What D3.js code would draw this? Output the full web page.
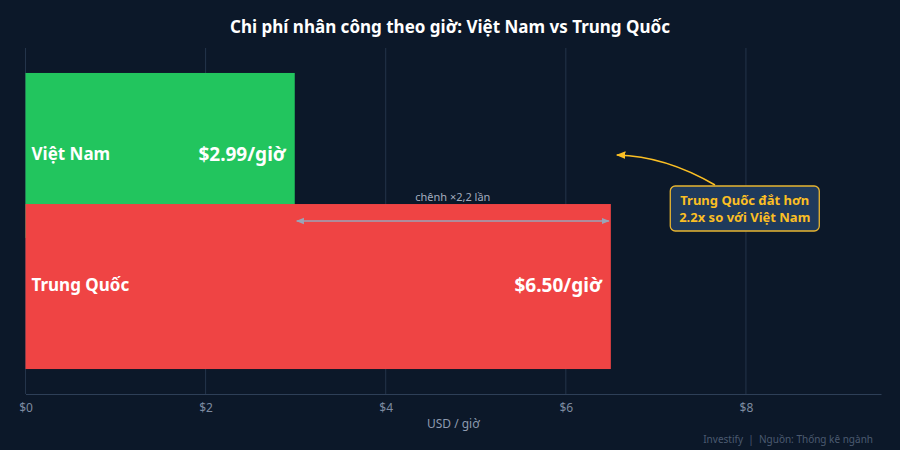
<!DOCTYPE html>
<html>
<head>
<meta charset="utf-8">
<script src="https://cdn.jsdelivr.net/npm/d3@7"></script>
<style>
  body { margin: 0; background: #0c1829; }
  svg { display: block; font-family: "Noto Sans", "Open Sans", sans-serif; }
</style>
</head>
<body>
<div id="chart"></div>
<script>
// du lieu
var countries = ['Việt Nam', 'Trung Quốc'];
var wages = [2.99, 6.50];
var barColors = ['#22c55e', '#ef4444'];
var tickValues = [0, 2, 4, 6, 8];
var ratioLabel = 'chênh ×2,2 lần';
var noteLines = ['Trung Quốc đắt hơn', '2.2x so với Việt Nam'];

var width = 900;
var height = 450;
var margin = { top: 48, right: 19, bottom: 56, left: 25.5 };
var innerW = width - margin.left - margin.right;
var innerH = height - margin.top - margin.bottom;

var svg = d3.select('#chart').append('svg')
    .attr('width', width)
    .attr('height', height);

svg.append('rect').attr('width', width).attr('height', height).attr('fill', '#0c1829');

// tieu de
svg.append('text')
    .attr('x', width / 2)
    .attr('y', 33)
    .attr('text-anchor', 'middle')
    .attr('fill', '#ffffff')
    .attr('font-size', 17)
    .attr('font-weight', 700)
    .text('Chi phí nhân công theo giờ: Việt Nam vs Trung Quốc');

var g = svg.append('g')
    .attr('transform', 'translate(' + margin.left + ',' + margin.top + ')');

var x = d3.scaleLinear().domain([0, 9.5]).range([0, innerW]);

var y = d3.scalePoint()
    .domain(countries)
    .range([0, innerH])
    .padding(0.82);
var barH = y.step() * 1.259;

// grid doc
g.append('g')
    .selectAll('line')
    .data(tickValues)
    .enter().append('line')
    .attr('x1', d => x(d))
    .attr('x2', d => x(d))
    .attr('y1', 0)
    .attr('y2', innerH)
    .attr('stroke', '#24344a')
    .attr('stroke-width', 1);

// truc X
var xAxis = g.append('g')
    .attr('transform', 'translate(0,' + innerH + ')')
    .call(d3.axisBottom(x).tickValues(tickValues).tickFormat(d => '$' + d).tickSize(0).tickPadding(9));
xAxis.select('.domain').attr('stroke', '#2e3f57');
xAxis.selectAll('text')
    .attr('fill', '#7d8ba0')
    .style('font-size', '12px')
    .style('font-family', '"Noto Sans", sans-serif');

g.append('text')
    .attr('x', innerW / 2)
    .attr('y', innerH + 34)
    .attr('text-anchor', 'middle')
    .attr('fill', '#8e9bb0')
    .attr('font-size', 12)
    .text('USD / giờ');

// cot
var rows = countries.map((c, i) => ({ name: c, value: wages[i], color: barColors[i] }));

var bars = g.selectAll('.bar')
    .data(rows)
    .enter().append('g')
    .attr('class', 'bar');

bars.append('rect')
    .attr('x', 0)
    .attr('y', d => y(d.name) - barH / 2)
    .attr('width', d => x(d.value))
    .attr('height', barH)
    .attr('fill', d => d.color);

bars.append('text')
    .attr('x', 6)
    .attr('y', d => y(d.name) - 1)
    .attr('dy', '0.35em')
    .attr('fill', '#ffffff')
    .attr('font-size', 17)
    .attr('font-weight', 700)
    .text(d => d.name);

bars.append('text')
    .attr('x', d => x(d.value) - 9)
    .attr('y', d => y(d.name) - 1)
    .attr('dy', '0.35em')
    .attr('text-anchor', 'end')
    .attr('fill', '#ffffff')
    .attr('font-size', 19)
    .attr('font-weight', 700)
    .text(d => '$' + d.value.toFixed(2) + '/giờ');

// mui ten chenh lech
var defs = svg.append('defs');
defs.append('marker')
    .attr('id', 'ah-gray')
    .attr('viewBox', '0 0 10 10')
    .attr('refX', 9).attr('refY', 5)
    .attr('markerWidth', 5).attr('markerHeight', 5)
    .attr('orient', 'auto-start-reverse')
    .append('path').attr('d', 'M0,1 L10,5 L0,9 z').attr('fill', '#9aa5b8');
defs.append('marker')
    .attr('id', 'ah-gold')
    .attr('viewBox', '0 0 10 10')
    .attr('refX', 9).attr('refY', 5)
    .attr('markerWidth', 6).attr('markerHeight', 6)
    .attr('orient', 'auto')
    .append('path').attr('d', 'M0,1 L10,5 L0,9 z').attr('fill', '#fbbf24');

var dimY = y(countries[1]) - barH / 2 + 17;
g.append('line')
    .attr('x1', x(wages[0]) + 2)
    .attr('x2', x(wages[1]) - 2)
    .attr('y1', dimY)
    .attr('y2', dimY)
    .attr('stroke', '#9aa5b8')
    .attr('stroke-width', 1.6)
    .attr('marker-start', 'url(#ah-gray)')
    .attr('marker-end', 'url(#ah-gray)');

g.append('text')
    .attr('x', (x(wages[0]) + x(wages[1])) / 2)
    .attr('y', dimY - 20)
    .attr('text-anchor', 'middle')
    .attr('fill', '#a3adbf')
    .attr('font-size', 11)
    .text(ratioLabel);

// chu thich
var boxX = x(7.16), boxY = 138, boxW = 149, boxH = 45;
g.append('path')
    .attr('d', 'M' + (boxX + boxW * 0.3) + ',' + (boxY - 1) +
        ' Q' + (boxX + 0.1 * boxW - 20) + ',' + (boxY - 30) + ' ' + (x(6.5) + 6) + ',' + (boxY - 31))
    .attr('fill', 'none')
    .attr('stroke', '#fbbf24')
    .attr('stroke-width', 1.6)
    .attr('marker-end', 'url(#ah-gold)');

g.append('rect')
    .attr('x', boxX)
    .attr('y', boxY)
    .attr('width', boxW)
    .attr('height', boxH)
    .attr('rx', 5)
    .attr('fill', '#1f3a5c')
    .attr('stroke', '#e8b530')
    .attr('stroke-width', 1.3);

g.append('text')
    .attr('x', boxX + boxW / 2)
    .attr('y', boxY + 19)
    .attr('text-anchor', 'middle')
    .attr('fill', '#fbbf24')
    .attr('font-size', 13)
    .attr('font-weight', 700)
    .selectAll('tspan')
    .data(noteLines)
    .enter().append('tspan')
    .attr('x', boxX + boxW / 2)
    .attr('dy', (d, i) => i === 0 ? 0 : 17)
    .text(d => d);

// nguon
svg.append('text')
    .attr('x', 873)
    .attr('y', 443)
    .attr('text-anchor', 'end')
    .attr('fill', '#4b5a70')
    .attr('font-size', 10)
    .style('white-space', 'pre')
    .text('Investify  |  Nguồn: Thống kê ngành');
</script>
</body>
</html>
